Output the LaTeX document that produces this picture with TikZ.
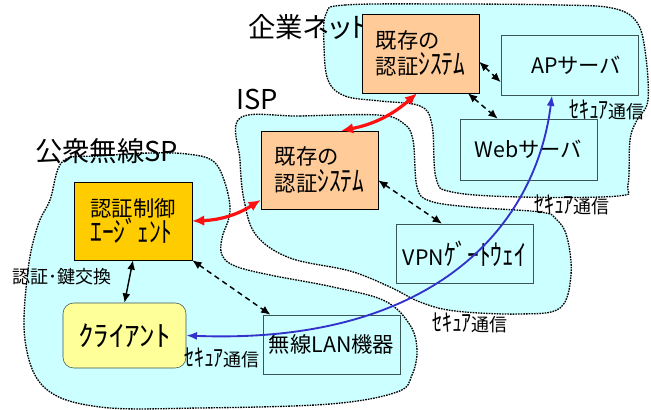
\documentclass[tikz,border=0pt]{standalone}
\usepackage{fontspec}
\usepackage{graphicx}
\setmainfont{Noto Sans CJK JP}
\newfontfamily\paltfont{Noto Sans CJK JP}[RawFeature=+palt]
\usetikzlibrary{arrows.meta}
\definecolor{lan}{HTML}{CCFFFF}
\definecolor{authorange}{HTML}{FFCC99}
\definecolor{agentgold}{HTML}{FFCC00}
\definecolor{clientyellow}{HTML}{FFFF99}
\definecolor{boxgray}{HTML}{3A5555}
\definecolor{linkred}{HTML}{FF1010}
\definecolor{linkblue}{HTML}{3333CC}
\newcommand{\bigfont}{\paltfont\fontsize{20.5}{24}\selectfont}
\newcommand{\nodefont}{\fontsize{16}{20}\selectfont}
\newcommand{\notefont}{\fontsize{13.5}{16}\selectfont}
% halfwidth kana drawn taller, as in the slide
\newcommand{\hk}[2][1.1]{\scalebox{#1}[1.35]{#2}}
\begin{document}
\begin{tikzpicture}[x=0.75pt, y=-0.75pt,
        cloud/.style={draw, fill=lan, line width=1pt, dash pattern=on 1.2pt off 0.8pt},
        authsys/.style={rectangle, draw=black, fill=authorange, align=left, font=\nodefont, minimum width=87.75pt, minimum height=58.5pt},
        server/.style={rectangle, draw=boxgray, fill=lan, font=\nodefont, minimum width=102.75pt, minimum height=45pt, inner sep=0pt},
        agent/.style={rectangle, draw=black, fill=agentgold, align=left, font=\nodefont, minimum width=88.5pt, minimum height=58.5pt},
        client/.style={rectangle, rounded corners=8pt, draw=boxgray, fill=clientyellow, font=\nodefont, minimum width=92.25pt, minimum height=48.75pt},
        title/.style={font=\bigfont, anchor=west, inner sep=0pt},
        note/.style={font=\notefont, inner sep=0pt},
        link/.style={draw, {Latex[length=7pt,width=6pt]}-{Latex[length=7pt,width=6pt]}, line width=1.1pt},
        dlink/.style={link, dash pattern=on 4pt off 3pt},
        redlink/.style={draw=linkred, {Latex[length=9pt,width=8pt]}-{Latex[length=9pt,width=8pt]}, line width=2.4pt},
        bluelink/.style={draw=linkblue, {Latex[length=8pt,width=6pt]}-{Latex[length=8pt,width=6pt]}, line width=1.4pt}]

        \useasboundingbox (0,0) rectangle (651,410);

        % areas
        \path[cloud] plot[smooth cycle, tension=0.6] coordinates {(326,14) (345,5) (450,4) (560,5) (612,8) (636,21) (645,50) (648,100) (637,120) (630,140) (628,185) (618,196) (520,197) (452,192) (436,178) (432,125) (420,106) (380,101) (345,96) (328,80) (324,45)};
        \path[cloud] plot[smooth cycle, tension=0.6] coordinates {(240,118) (300,116) (378,115) (403,123) (413,140) (417,187) (430,201) (470,207) (540,212) (556,219) (567,237) (571,275) (560,308) (520,314) (455,311) (420,302) (390,287) (350,271) (290,258) (256,235) (244,200) (240,160)};
        \path[cloud] plot[smooth cycle, tension=0.6] coordinates {(63,161) (100,156) (150,153) (187,154) (213,161) (225,183) (230,212) (222,238) (222,255) (235,266) (270,275) (333,287) (385,301) (410,325) (417,350) (412,375) (397,392) (330,404) (200,408) (100,407) (45,388) (25,340) (28,270) (38,225) (50,200)};

        \node[title] (corptitle) at (248,27) {企業ネット};
        \node[title] (isptitle) at (236,99) {ISP};
        \node[title] (pubtitle) at (35,151) {公衆無線SP};

        % nodes
        \node[authsys, minimum width=87.75pt, minimum height=59.25pt] (corpauth) at (420.5,53.5) {既存の\\認証\hk{ｼｽﾃﾑ}};
        \node[server] (ap) at (569.5,65) {\hspace{10pt}APサーバ};
        \node[server, minimum height=45.75pt] (web) at (528.5,149.5) {Webサーバ};
        \node[authsys] (ispauth) at (319.5,170) {既存の\\認証\hk{ｼｽﾃﾑ}};
        \node[server, minimum height=44.25pt] (vpn) at (464.5,253.5) {VPN\hk{ｹﾞｰﾄｳｪｲ}};
        \node[agent] (agent) at (133,221) {認証制御\\\hk{ｴｰｼﾞｪﾝﾄ}};
        \node[client] (client) at (124.5,335.5) {\hk[1.45]{ｸﾗｲｱﾝﾄ}};
        \node[server, minimum height=44.25pt] (wlan) at (331.5,344.5) {無線LAN機器};

        % connectors
        \path[redlink] (agent.east) to[bend right=15] (ispauth.207);
        \path[redlink] (ispauth.61) to[bend right=15] (corpauth.265);
        \path[dlink] (corpauth.352) -- (ap.194);
        \path[dlink] (corpauth.320) -- (web.135);
        \path[dlink] (ispauth.350) -- (vpn.127);
        \path[dlink] (agent.south east) -- (wlan.154);
        \path[link] (agent.south) -- (client.north);
        \path[bluelink] (client.east) .. controls (430,345) and (535,230) .. (ap.240);

        \node[note, anchor=west] (keylabel) at (12,277) {認証･鍵交換};
        \node[note] (sec1) at (607,110) {\hk{ｾｷｭｱ}通信};
        \node[note] (sec2) at (572,205) {\hk{ｾｷｭｱ}通信};
        \node[note] (sec3) at (470,323) {\hk{ｾｷｭｱ}通信};
        \node[note] (sec4) at (222,358) {\hk{ｾｷｭｱ}通信};
\end{tikzpicture}
\end{document}
